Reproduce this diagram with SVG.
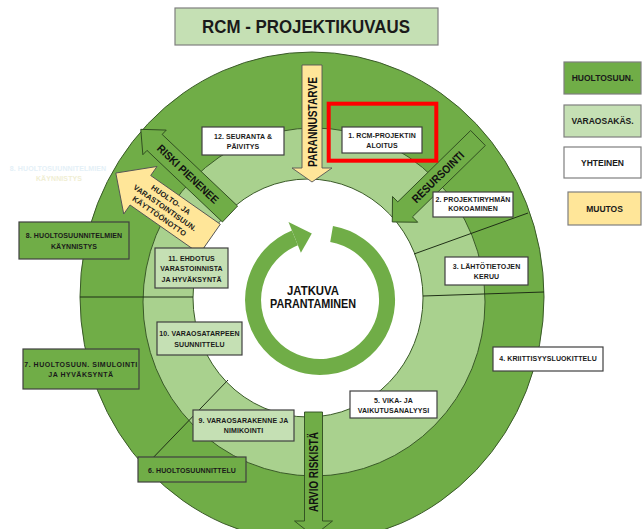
<svg xmlns="http://www.w3.org/2000/svg" width="643" height="529" viewBox="0 0 643 529">
<style>
.bx{stroke:#404040;stroke-width:1.2}
.w{fill:#ffffff}
.dg{fill:#70ad47}
.lg{fill:#c5e0b4}
.or{fill:#ffe699}
.t{font-family:"Liberation Sans",Arial,sans-serif;font-weight:bold;font-size:7px;fill:#1a1a1a;text-anchor:middle;letter-spacing:0.1px}
.lt{font-family:"Liberation Sans",Arial,sans-serif;font-weight:bold;font-size:8.5px;fill:#1a1a1a;text-anchor:middle}
.big{font-family:"Liberation Sans",Arial,sans-serif;font-weight:bold;fill:#111;text-anchor:middle}
.ring{stroke:#3a5a28;stroke-width:1}
.div{stroke:#1f2f16;stroke-width:1;fill:none}
.ga{fill:#70ad47;stroke:#2e4a1f;stroke-width:0.9}
.oa{fill:#ffe699;stroke:#555;stroke-width:0.9}
</style>
<g id="title">
<rect x="175" y="8" width="263" height="37" fill="#c5e0b4" stroke="#7f7f7f" stroke-width="1.2"/>
<text x="306" y="33" class="big" style="font-size:17.5px;fill:#1a1a1a" textLength="208" lengthAdjust="spacingAndGlyphs">RCM - PROJEKTIKUVAUS</text>
</g>
<g id="ghost">
<text x="58" y="170.5" class="t" style="fill:#e4f0f7">8. HUOLTOSUUNNITELMIEN</text>
<text x="59" y="180.5" class="t" style="fill:#f0eed3">KÄYNNISTYS</text>
</g>
<g id="rings">
<ellipse cx="312" cy="297" rx="232" ry="245" class="ring" fill="#70ad47"/>
<ellipse cx="314" cy="302" rx="171" ry="174" class="ring" fill="#a9d18e"/>
<ellipse cx="308" cy="298" rx="115" ry="119" class="ring" fill="#ffffff"/>
</g>
<g id="connectors">
<line x1="228" y1="380" x2="147" y2="464" class="div"/>
<line x1="80" y1="297" x2="193" y2="297" class="div"/>
<line x1="414" y1="254" x2="528" y2="213" class="div"/>
<line x1="423" y1="296" x2="544" y2="292" class="div"/>
</g>
<g id="arrow-parannustarve">
<path d="M302,65 H322 V168 H332 L312,182 L292,168 H302 Z" class="oa"/>
<text transform="translate(316.5,122) rotate(-90)" class="big" style="font-size:13px" textLength="90" lengthAdjust="spacingAndGlyphs">PARANNUSTARVE</text>
</g>
<g id="arrow-arvio">
<path d="M304.5,412 H322.5 V521 H332.5 L313.5,536 L294.5,521 H304.5 Z" class="ga"/>
<text transform="translate(318,472) rotate(-90)" class="big" style="font-size:13px" textLength="80" lengthAdjust="spacingAndGlyphs">ARVIO RISKISTÄ</text>
</g>
<g id="arrow-resursointi">
<path d="M0,-10.5 H102 V-18 L120,0 L102,18 V10.5 H0 Z" class="ga" transform="translate(478,138) rotate(135.6)"/>
<text transform="translate(438,177) rotate(-44.4)" dominant-baseline="central" class="big" style="font-size:11.5px" textLength="68" lengthAdjust="spacingAndGlyphs">RESURSOINTI</text>
</g>
<g id="arrow-riski">
<path d="M0,-11 H104 V-17 L123,0 L104,17 V11 H0 Z" class="ga" transform="translate(230,214) rotate(223.5)"/>
<text transform="translate(188,174) rotate(43.5)" dominant-baseline="central" class="big" style="font-size:11px" textLength="80" lengthAdjust="spacingAndGlyphs">RISKI PIENENEE</text>
</g>
<g id="arrow-kayttoonotto">
<path d="M0,-18 H85 V-29 L115,0 L85,29 V18 H0 Z" class="oa" transform="translate(210,239) rotate(215)"/>
<g transform="translate(165,208) rotate(35)">
<text x="0" y="-7.5" class="t" style="font-size:7.5px">HUOLTO- JA</text>
<text x="0" y="2.5" class="t" style="font-size:7.5px">VARASTOINTISUUN.</text>
<text x="0" y="12.5" class="t" style="font-size:7.5px">KÄYTTÖÖNOTTO</text>
</g>
</g>
<g id="center">
<path d="M331.6,234.0 A67,67 0 1 1 294.9,237.9" fill="none" stroke="#70ad47" stroke-width="16"/>
<polygon points="300.9,252.7 288.5,222.1 311.8,233.5" fill="#70ad47"/>
<text x="313" y="295" class="big" style="font-size:12.5px" textLength="52" lengthAdjust="spacingAndGlyphs">JATKUVA</text>
<text x="313" y="308" class="big" style="font-size:12.5px" textLength="86" lengthAdjust="spacingAndGlyphs">PARANTAMINEN</text>
</g>
<g id="step12"><rect x="202" y="127" width="82" height="28" class="bx w"/><text x="243" y="138.5" class="t">12. SEURANTA &amp;</text><text x="243" y="148.5" class="t">PÄIVITYS</text></g>
<g id="step1"><rect x="342" y="127" width="80" height="26" class="bx w"/><text x="382" y="138" class="t">1. RCM-PROJEKTIN</text><text x="382" y="148" class="t">ALOITUS</text></g>
<g id="step2"><rect x="433" y="192" width="80" height="25" class="bx w"/><text x="473" y="201.5" class="t">2. PROJEKTIRYHMÄN</text><text x="473" y="211" class="t">KOKOAMINEN</text></g>
<g id="step3"><rect x="445" y="257" width="83" height="28" class="bx w"/><text x="486.5" y="269" class="t">3. LÄHTÖTIETOJEN</text><text x="486.5" y="279" class="t">KERUU</text></g>
<g id="step4"><rect x="493" y="347" width="110" height="24" class="bx w"/><text x="548" y="361" class="t">4. KRIITTISYYSLUOKITTELU</text></g>
<g id="step5"><rect x="350" y="391" width="87" height="27" class="bx w"/><text x="393.5" y="402.5" class="t">5. VIKA- JA</text><text x="393.5" y="412.5" class="t">VAIKUTUSANALYYSI</text></g>
<g id="step6"><rect x="138" y="457" width="108" height="25" class="bx dg"/><text x="192" y="472.5" class="t">6. HUOLTOSUUNNITTELU</text></g>
<g id="step7"><rect x="23" y="349" width="116" height="40" class="bx dg"/><text x="81" y="366.5" class="t" style="letter-spacing:0.5px">7. HUOLTOSUUN. SIMULOINTI</text><text x="81" y="376.5" class="t" style="letter-spacing:0.5px">JA HYVÄKSYNTÄ</text></g>
<g id="step8"><rect x="19" y="222" width="110" height="37" class="bx dg"/><text x="74" y="238" class="t">8. HUOLTOSUUNNITELMIEN</text><text x="74" y="248.5" class="t">KÄYNNISTYS</text></g>
<g id="step9"><rect x="193" y="410" width="101" height="31" class="bx lg"/><text x="243.5" y="423" class="t">9. VARAOSARAKENNE JA</text><text x="243.5" y="433" class="t">NIMIKOINTI</text></g>
<g id="step10"><rect x="157" y="322" width="85" height="33" class="bx lg"/><text x="199.5" y="336" class="t">10. VARAOSATARPEEN</text><text x="199.5" y="346.5" class="t">SUUNNITTELU</text></g>
<g id="step11"><rect x="155" y="248" width="73" height="40" class="bx lg"/><text x="191.5" y="260.8" class="t">11. EHDOTUS</text><text x="191.5" y="270.8" class="t">VARASTOINNISTA</text><text x="191.5" y="282" class="t">JA HYVÄKSYNTÄ</text></g>
<g id="highlight"><rect x="328.7" y="103.7" width="107.6" height="57" fill="none" stroke="#ff0000" stroke-width="4"/></g>
<g id="legend">
<g id="leg-huolto"><rect x="564" y="62" width="77" height="32" class="bx dg" style="stroke:#7f7f7f"/><text x="602.5" y="80.5" class="lt">HUOLTOSUUN.</text></g>
<g id="leg-varaosa"><rect x="564" y="105" width="77" height="32" class="bx lg" style="stroke:#7f7f7f"/><text x="602.5" y="123.5" class="lt">VARAOSAKÄS.</text></g>
<g id="leg-yhteinen"><rect x="564" y="147" width="77" height="31" class="bx w" style="stroke:#7f7f7f"/><text x="602.5" y="166" class="lt">YHTEINEN</text></g>
<g id="leg-muutos"><rect x="568" y="192" width="73" height="33" class="bx or" style="stroke:#7f7f7f"/><text x="604.5" y="211.5" class="lt">MUUTOS</text></g>
</g>
</svg>
